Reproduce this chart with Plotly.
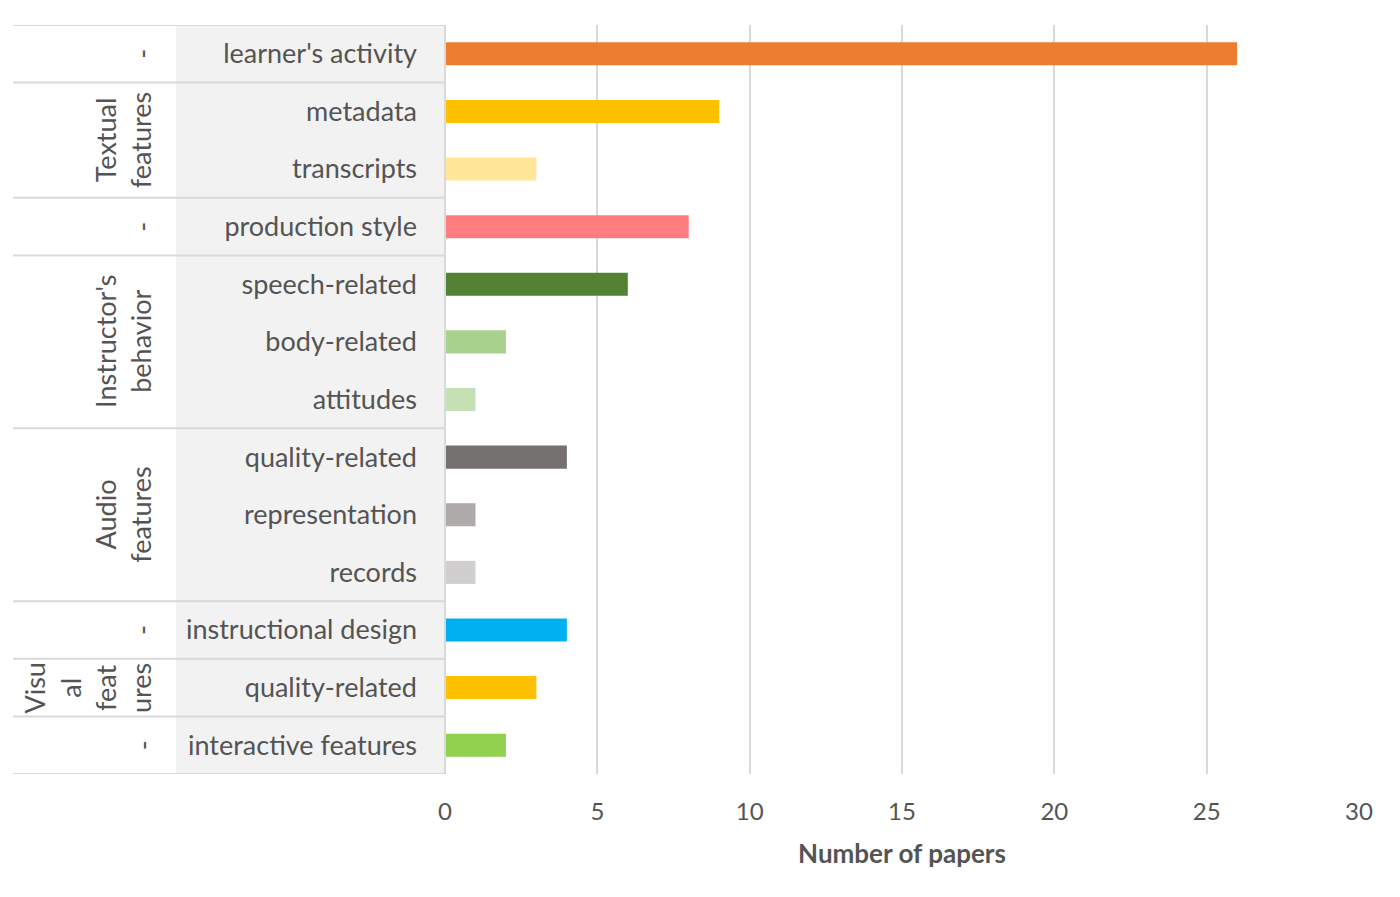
import plotly.graph_objects as go

# data
features = ["learner's activity", "metadata", "transcripts", "production style",
            "speech-related", "body-related", "attitudes",
            "quality-related", "representation", "records",
            "instructional design", "quality-related", "interactive features"]
papers = [26, 9, 3, 8, 6, 2, 1, 4, 1, 1, 4, 3, 2]
bar_colors = ["#ED7D31", "#FFC000", "#FFE699", "#FF7C80",
              "#548235", "#A9D18E", "#C5E0B4",
              "#767171", "#AEAAAA", "#D0CECE",
              "#00B0F0", "#FFC000", "#92D050"]
group_labels = ["-", "Textual<br>features", "-", "Instructor's<br>behavior",
                "Audio<br>features", "-", "Visu<br>al<br>feat<br>ures", "-"]
group_sizes = [1, 2, 1, 3, 3, 1, 1, 1]

FONT = "Lato"
TXT = "#545454"
W, H = 1400, 897
PAGE_OFF = 8  # default body margin of the html page
PW, PH = 914, 749
ML = 445 - PAGE_OFF
MT = 25 - PAGE_OFF
MR = W - ML - PW
MB = H - MT - PH


def px_to_paper(px):
    # px measured on the screenshot
    return (px - PAGE_OFF - ML) / PW


rows = list(range(len(features)))

fig = go.Figure()
fig.add_trace(go.Bar(
    x=papers, y=rows, orientation="h", width=0.4,
    marker=dict(color=bar_colors, line=dict(width=0)),
    showlegend=False,
))

# gray label band behind the feature names
fig.add_shape(type="rect", xref="paper", yref="paper",
              x0=px_to_paper(176), x1=0, y0=0, y1=1,
              fillcolor="#F2F2F2", line=dict(width=0), layer="below")

# separators between groups
bounds = [-0.5]
for s in group_sizes:
    bounds.append(bounds[-1] + s)
for b in bounds:
    fig.add_shape(type="line", xref="paper", yref="y",
                  x0=px_to_paper(13), x1=0, y0=b, y1=b,
                  line=dict(color="#D9D9D9", width=2))
fig.add_shape(type="line", xref="paper", yref="paper",
              x0=0, x1=0, y0=0, y1=1, line=dict(color="#D9D9D9", width=2))

# group labels (rotated)
for lbl, lo, hi in zip(group_labels, bounds[:-1], bounds[1:]):
    n_lines = lbl.count("<br>") + 1
    if lbl == "-":
        cx = 142
    elif n_lines == 2:
        cx = 123
    else:
        cx = 87
    fig.add_annotation(x=px_to_paper(cx), y=(lo + hi) / 2, xref="paper", yref="y",
                       text=lbl, textangle=-90, showarrow=False,
                       xanchor="center", yanchor="middle",
                       font=dict(family=FONT, size=27, color=TXT))

fig.update_yaxes(
    range=[len(features) - 0.5, -0.5],
    tickvals=rows, ticktext=features,
    ticks="", showgrid=False, zeroline=False, showline=False,
    ticklabelstandoff=27,
    tickfont=dict(family=FONT, size=27, color=TXT),
)
fig.update_xaxes(
    range=[0, 30], dtick=5, tick0=0,
    showgrid=True, gridcolor="#D9D9D9", gridwidth=1.5,
    zeroline=False, showline=False, ticks="",
    ticklabelstandoff=21,
    tickfont=dict(family=FONT, size=24, color=TXT),
    title=dict(text="<b>Number of papers</b>", standoff=20,
               font=dict(family=FONT, size=26, color=TXT)),
)
fig.update_layout(
    width=W, height=H,
    margin=dict(l=ML, r=MR, t=MT, b=MB),
    plot_bgcolor="white", paper_bgcolor="white",
    bargap=0.6,
)

fig.write_html("out.html")
